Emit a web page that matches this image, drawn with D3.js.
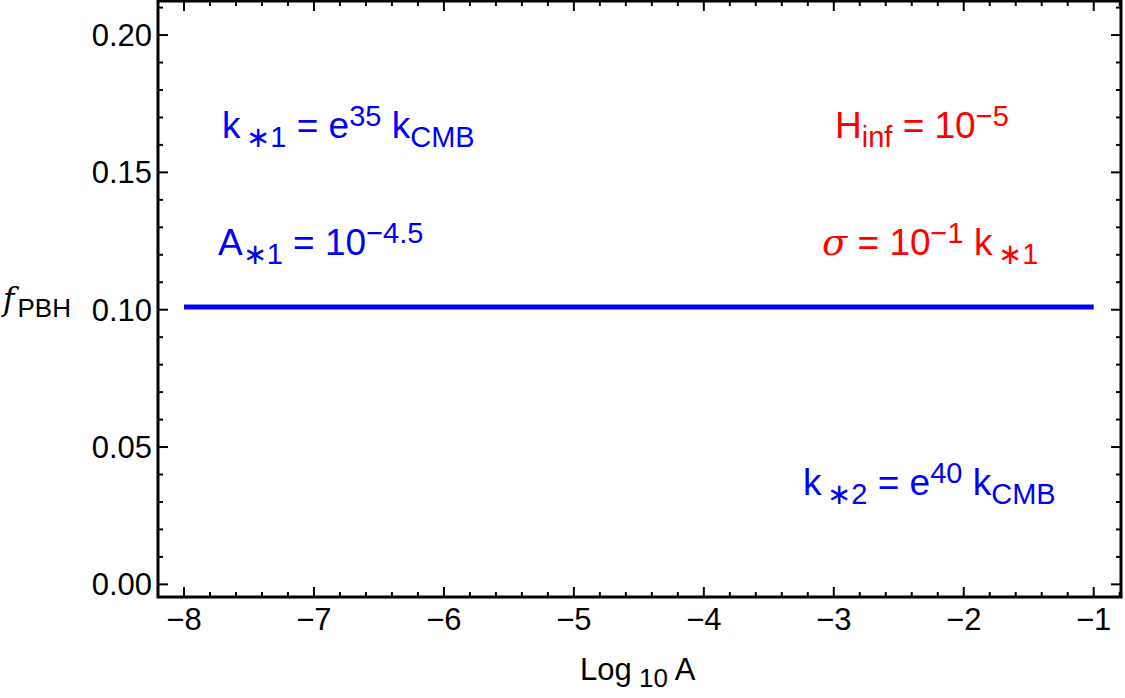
<!DOCTYPE html>
<html>
<head>
<meta charset="utf-8">
<script src="https://cdn.jsdelivr.net/npm/d3@7"></script>
<style>
  body { margin: 0; background: #fff; }
  svg text { font-family: "Liberation Sans", Arial, sans-serif; }
</style>
</head>
<body>
<div id="chart"></div>
<script>
// data
const logA = [-8, -7, -6, -5, -4, -3, -2, -1];
const fPBH = [0.101, 0.101, 0.101, 0.101, 0.101, 0.101, 0.101, 0.101];
const xTicks = [-8, -7, -6, -5, -4, -3, -2, -1];
const yTicks = [0, 0.05, 0.1, 0.15, 0.2];
const xDomain = [-8.2, -0.79];
const yDomain = [-0.0046, 0.2124];

const width = 1125;
const height = 698;
const margin = { left: 158, top: 1, right: 4, bottom: 101 };

const svg = d3.select('#chart').append('svg')
  .attr('width', width)
  .attr('height', height);

const x = d3.scaleLinear().domain(xDomain).range([margin.left, width - margin.right]);
const y = d3.scaleLinear().domain(yDomain).range([height - margin.bottom, margin.top]);

// minor ticks
const xMinor = d3.range(-8.2, -0.79, 0.2).filter(v => !xTicks.some(t => Math.abs(t - v) < 1e-6));
const yMinor = d3.range(0, 0.2125, 0.01).filter(v => !yTicks.some(t => Math.abs(t - v) < 1e-6));

const tickG = svg.append('g').attr('stroke', '#000').attr('stroke-width', 2);
const x0 = x.range()[0], x1 = x.range()[1], y0 = y.range()[0], y1 = y.range()[1];

function xTick(v, len) {
  tickG.append('line').attr('x1', x(v)).attr('x2', x(v)).attr('y1', y0).attr('y2', y0 - len);
  tickG.append('line').attr('x1', x(v)).attr('x2', x(v)).attr('y1', y1).attr('y2', y1 + len);
}
function yTick(v, len) {
  tickG.append('line').attr('y1', y(v)).attr('y2', y(v)).attr('x1', x0).attr('x2', x0 + len);
  tickG.append('line').attr('y1', y(v)).attr('y2', y(v)).attr('x1', x1).attr('x2', x1 - len);
}
xTicks.forEach(v => xTick(v, 10));
xMinor.forEach(v => xTick(v, 5));
yTicks.forEach(v => yTick(v, 10));
yMinor.forEach(v => yTick(v, 5));

// frame
svg.append('rect')
  .attr('x', x0).attr('y', y1)
  .attr('width', x1 - x0).attr('height', y0 - y1)
  .attr('fill', 'none').attr('stroke', '#000').attr('stroke-width', 3);

// tick labels
svg.append('g').selectAll('text')
  .data(xTicks).enter()
  .append('text')
  .attr('x', d => x(d))
  .attr('y', y0 + 33)
  .attr('text-anchor', 'middle')
  .attr('font-size', 31)
  .text(d => '\u2212' + Math.abs(d));

svg.append('g').selectAll('text')
  .data(yTicks).enter()
  .append('text')
  .attr('x', x0 - 6)
  .attr('y', d => y(d) + 11)
  .attr('text-anchor', 'end')
  .attr('font-size', 31)
  .text(d => d3.format('.2f')(d));

// the curve
const line = d3.line().x((d, i) => x(logA[i])).y(d => y(d));
svg.append('path')
  .datum(fPBH)
  .attr('d', line)
  .attr('fill', 'none')
  .attr('stroke', '#0000ff')
  .attr('stroke-width', 5);

// axis labels
const yl = svg.append('text').attr('x', 3).attr('y', 310).attr('font-size', 31);
yl.append('tspan').attr('font-style', 'italic').attr('font-family', 'DejaVu Serif').text('f');
yl.append('tspan').attr('font-size', 26).attr('dy', 7).attr('dx', 3).text('PBH');

const xl = svg.append('text').attr('x', 580).attr('y', 680).attr('font-size', 31);
xl.append('tspan').text('Log');
xl.append('tspan').attr('font-size', 26).attr('dy', 7).text(' 10');
xl.append('tspan').attr('dy', -7).text(' A');

// annotations: each part is [text, shift] where shift 0 normal, 1 sub, -1 sup
function note(parts, px, py, color) {
  const t = svg.append('text').attr('x', px).attr('y', py)
    .attr('font-size', 37).attr('fill', color);
  let prev = 0;
  parts.forEach(([s, shift, opts]) => {
    const off = shift * 9 - prev * 9;
    const sp = t.append('tspan').attr('dy', off).text(s);
    if (shift !== 0) sp.attr('font-size', 29);
    if (opts === 'serif') sp.attr('font-family', 'DejaVu Serif').attr('font-style', 'italic');
    prev = shift;
  });
}

note([['k', 0], ['\u2009\u2217', 1], ['1', 1], [' = e', 0], ['35', -1.3], [' k', 0], ['CMB', 1]], 222, 138, '#0000ff');
note([['A', 0], ['\u2217', 1], ['1', 1], [' = 10', 0], ['\u22124.5', -1.3]], 218, 255, '#0000ff');
note([['H', 0], ['inf', 1], [' = 10', 0], ['\u22125', -1.3]], 835, 138, '#ff0000');
note([['\u03c3', 0, 'serif'], [' = 10', 0], ['\u22121', -1.3], [' k', 0], ['\u2009\u2217', 1], ['1', 1]], 822, 255, '#ff0000');
note([['k', 0], ['\u2009\u2217', 1], ['2', 1], [' = e', 0], ['40', -1.3], [' k', 0], ['CMB', 1]], 803, 495, '#0000ff');
</script>
</body>
</html>
